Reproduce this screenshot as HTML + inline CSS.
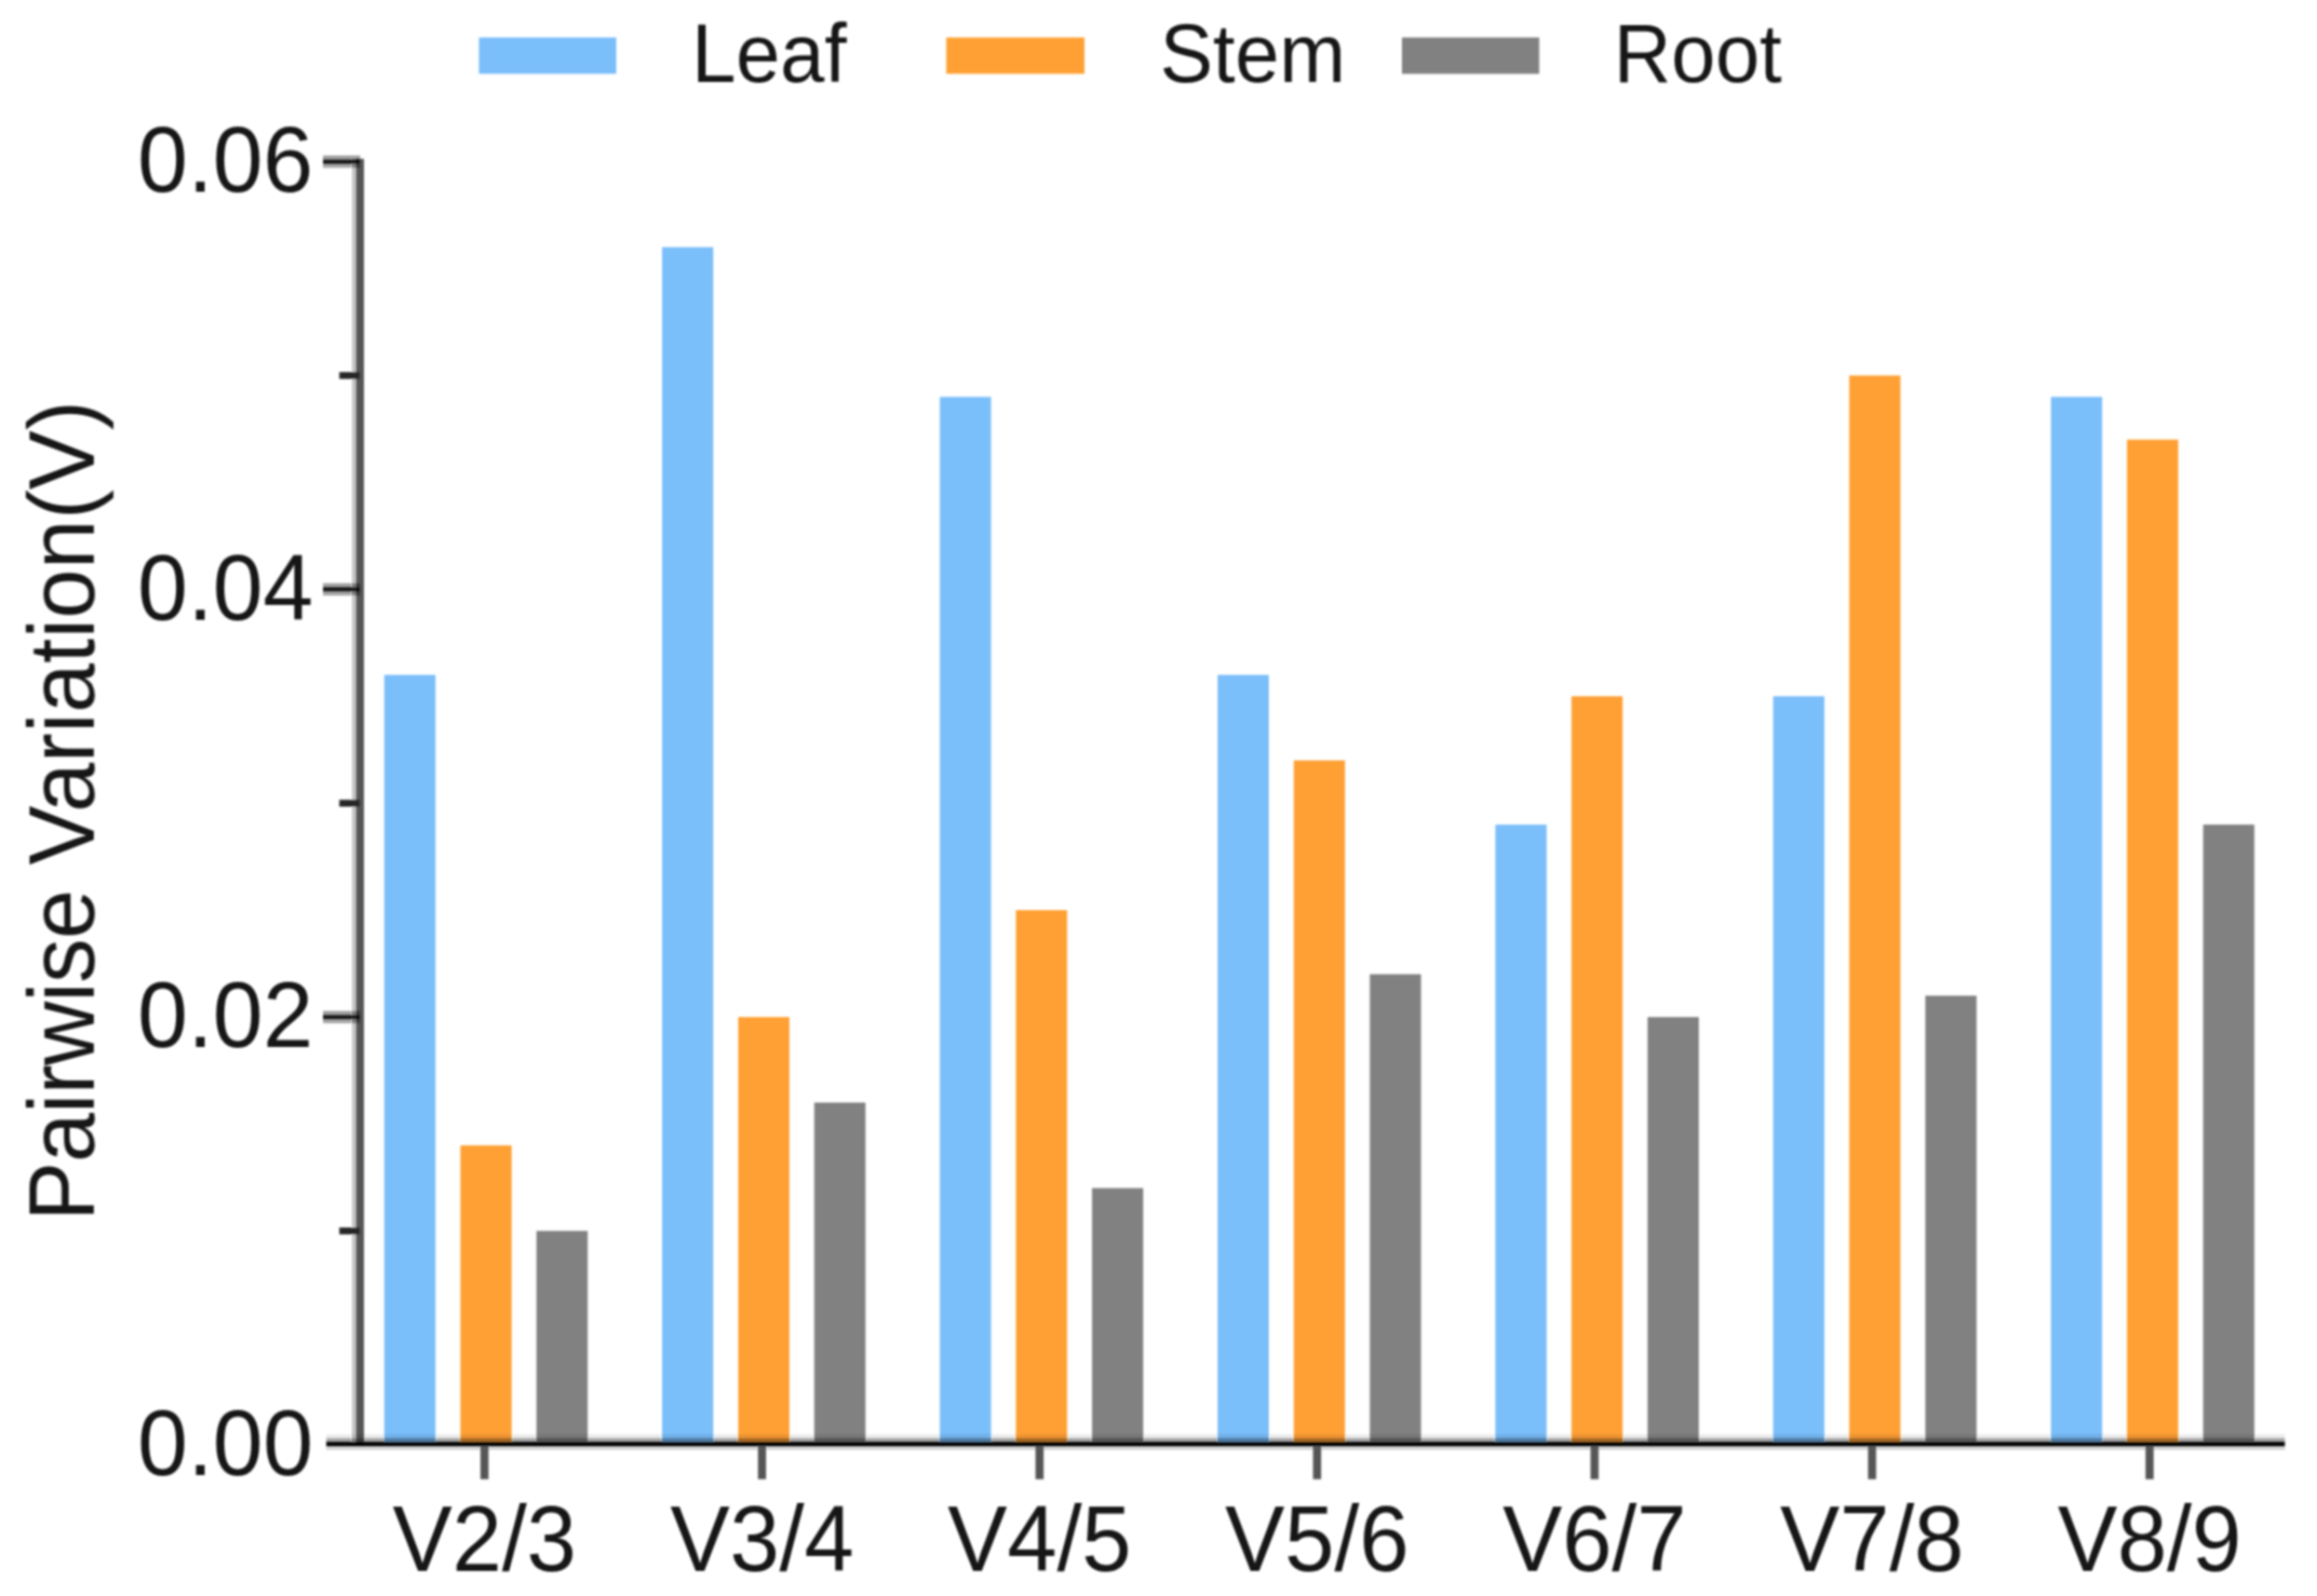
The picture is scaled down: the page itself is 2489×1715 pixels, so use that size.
<!DOCTYPE html>
<html lang="en">
<head>
<meta charset="utf-8">
<title>Pairwise Variation</title>
<style>
html,body{margin:0;padding:0;background:#fff;}
body{width:2489px;height:1715px;overflow:hidden;}
svg{display:block;}
svg text{font-family:"Liberation Sans",Arial,Helvetica,sans-serif;fill:#161616;}
</style>
</head>
<body>
<svg width="2489" height="1715" viewBox="0 0 2489 1715">
<defs><filter id="soft" x="0" y="0" width="2489" height="1715" filterUnits="userSpaceOnUse"><feGaussianBlur stdDeviation="1.30"/></filter></defs>
<rect x="0" y="0" width="2489" height="1715" fill="#ffffff"/>
<g id="chart" filter="url(#soft)">
<g id="bars">
<rect x="412.8" y="725.2" width="55.0" height="824.3" fill="#7abefa"/>
<rect x="494.6" y="1230.8" width="55.0" height="318.7" fill="#ffa035"/>
<rect x="576.3" y="1322.7" width="55.0" height="226.8" fill="#818181"/>
<rect x="711.2" y="265.6" width="55.0" height="1283.9" fill="#7abefa"/>
<rect x="793.0" y="1092.9" width="55.0" height="456.6" fill="#ffa035"/>
<rect x="874.7" y="1184.8" width="55.0" height="364.7" fill="#818181"/>
<rect x="1009.6" y="426.5" width="55.0" height="1123.0" fill="#7abefa"/>
<rect x="1091.3" y="978.0" width="55.0" height="571.5" fill="#ffa035"/>
<rect x="1173.1" y="1276.7" width="55.0" height="272.8" fill="#818181"/>
<rect x="1308.0" y="725.2" width="55.0" height="824.3" fill="#7abefa"/>
<rect x="1389.8" y="817.1" width="55.0" height="732.4" fill="#ffa035"/>
<rect x="1471.5" y="1046.9" width="55.0" height="502.6" fill="#818181"/>
<rect x="1606.4" y="886.1" width="55.0" height="663.4" fill="#7abefa"/>
<rect x="1688.1" y="748.2" width="55.0" height="801.3" fill="#ffa035"/>
<rect x="1769.9" y="1092.9" width="55.0" height="456.6" fill="#818181"/>
<rect x="1904.8" y="748.2" width="55.0" height="801.3" fill="#7abefa"/>
<rect x="1986.5" y="403.5" width="55.0" height="1146.0" fill="#ffa035"/>
<rect x="2068.3" y="1069.9" width="55.0" height="479.6" fill="#818181"/>
<rect x="2203.2" y="426.5" width="55.0" height="1123.0" fill="#7abefa"/>
<rect x="2284.9" y="472.4" width="55.0" height="1077.1" fill="#ffa035"/>
<rect x="2366.7" y="886.1" width="55.0" height="663.4" fill="#818181"/>
</g>
<g id="axes">
<rect x="378" y="170.7" width="4.3" height="1381.3" fill="#c6c6c6"/>
<rect x="382.3" y="170.7" width="8.7" height="1381.3" fill="#575757"/>
<rect x="347" y="167.1" width="40" height="4.3" fill="#000" fill-opacity="0.38"/>
<rect x="347" y="171.4" width="40" height="4.6" fill="#000" fill-opacity="0.9"/>
<rect x="347" y="176.0" width="40" height="4.3" fill="#000" fill-opacity="0.36"/>
<rect x="347" y="626.7" width="40" height="4.3" fill="#000" fill-opacity="0.38"/>
<rect x="347" y="631.0" width="40" height="4.6" fill="#000" fill-opacity="0.9"/>
<rect x="347" y="635.6" width="40" height="4.3" fill="#000" fill-opacity="0.36"/>
<rect x="347" y="1086.3" width="40" height="4.3" fill="#000" fill-opacity="0.38"/>
<rect x="347" y="1090.6" width="40" height="4.6" fill="#000" fill-opacity="0.9"/>
<rect x="347" y="1095.2" width="40" height="4.3" fill="#000" fill-opacity="0.36"/>
<rect x="364.5" y="399.8" width="22" height="7.4" fill="#262626"/>
<rect x="364.5" y="859.4" width="22" height="7.4" fill="#262626"/>
<rect x="364.5" y="1319.0" width="22" height="7.4" fill="#262626"/>
<rect x="350.5" y="1541" width="2104" height="4.3" fill="#000" fill-opacity="0.07"/>
<rect x="350.5" y="1545.3" width="2104" height="4.1" fill="#000" fill-opacity="0.35"/>
<rect x="350.5" y="1549.3" width="2104" height="4.7" fill="#000"/>
<rect x="350.5" y="1554" width="2104" height="4" fill="#000" fill-opacity="0.18"/>
<rect x="516.1" y="1554" width="8.7" height="35.5" fill="#575757"/>
<rect x="814.2" y="1554" width="8.7" height="35.5" fill="#575757"/>
<rect x="1112.4" y="1554" width="8.7" height="35.5" fill="#575757"/>
<rect x="1410.5" y="1554" width="8.7" height="35.5" fill="#575757"/>
<rect x="1708.6" y="1554" width="8.7" height="35.5" fill="#575757"/>
<rect x="2006.7" y="1554" width="8.7" height="35.5" fill="#575757"/>
<rect x="2304.8" y="1554" width="8.7" height="35.5" fill="#575757"/>
</g>
<g id="labels">
<text transform="translate(336.5,206.1) scale(1,1.035)" font-size="97" text-anchor="end">0.06</text>
<text transform="translate(336.5,665.7) scale(1,1.035)" font-size="97" text-anchor="end">0.04</text>
<text transform="translate(336.5,1125.3) scale(1,1.035)" font-size="97" text-anchor="end">0.02</text>
<text transform="translate(336.5,1584.9) scale(1,1.035)" font-size="97" text-anchor="end">0.00</text>
<text transform="translate(520.5,1687.5) scale(1,1.04)" font-size="96" text-anchor="middle">V2/3</text>
<text transform="translate(818.6,1687.5) scale(1,1.04)" font-size="96" text-anchor="middle">V3/4</text>
<text transform="translate(1116.7,1687.5) scale(1,1.04)" font-size="96" text-anchor="middle">V4/5</text>
<text transform="translate(1414.8,1687.5) scale(1,1.04)" font-size="96" text-anchor="middle">V5/6</text>
<text transform="translate(1712.9,1687.5) scale(1,1.04)" font-size="96" text-anchor="middle">V6/7</text>
<text transform="translate(2011.0,1687.5) scale(1,1.04)" font-size="96" text-anchor="middle">V7/8</text>
<text transform="translate(2309.1,1687.5) scale(1,1.04)" font-size="96" text-anchor="middle">V8/9</text>
<g transform="translate(100.3,0) rotate(-90) scale(1,1.04)">
<text x="-1312" y="0" font-size="95.5" textLength="356" lengthAdjust="spacing">Pairwise</text>
<text x="-929.5" y="0" font-size="95.5" textLength="499" lengthAdjust="spacing">Variation(V)</text>
</g>
</g>
<g id="legend">
<rect x="514.5" y="40.3" width="147.5" height="39" fill="#7abefa"/>
<text transform="translate(743,88) scale(1,1.04)" font-size="85.5">Leaf</text>
<rect x="1016.5" y="40.3" width="148.5" height="39" fill="#ffa035"/>
<text transform="translate(1246,88) scale(1,1.04)" font-size="85.5">Stem</text>
<rect x="1506" y="40.3" width="147.5" height="39" fill="#818181"/>
<text transform="translate(1733.5,88) scale(1,1.04)" font-size="85.5">Root</text>
</g>
</g>
</svg>
</body>
</html>
